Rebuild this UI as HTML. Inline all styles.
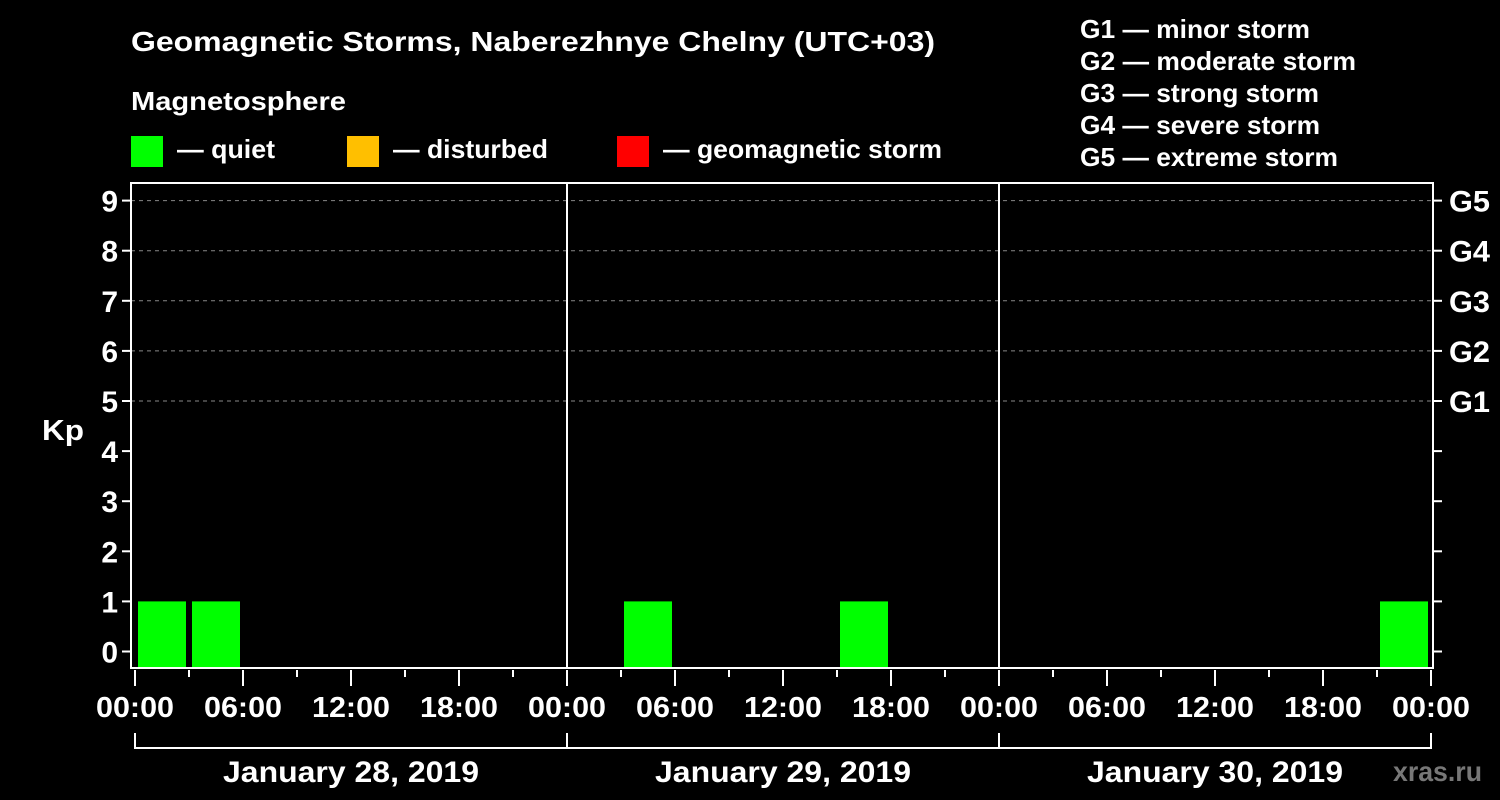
<!DOCTYPE html>
<html><head><meta charset="utf-8">
<style>
html,body{margin:0;padding:0;background:#000;}
svg{display:block;font-family:"Liberation Sans",Arial,sans-serif;font-weight:bold;}
</style></head>
<body>
<svg id="chart" width="1500" height="800" viewBox="0 0 1500 800" xmlns="http://www.w3.org/2000/svg">
<rect width="1500" height="800" fill="#000"/>
<text x="131" y="51" fill="#fff" font-size="28" textLength="804" lengthAdjust="spacingAndGlyphs">Geomagnetic Storms, Naberezhnye Chelny (UTC+03)</text>
<text x="131" y="110" fill="#fff" font-size="26" textLength="215" lengthAdjust="spacingAndGlyphs">Magnetosphere</text>
<g><rect x="131" y="136" width="32" height="31" fill="#00ff00"/><text x="177" y="158" fill="#fff" font-size="26" textLength="98" lengthAdjust="spacingAndGlyphs">— quiet</text></g>
<g><rect x="347" y="136" width="32" height="31" fill="#ffbf00"/><text x="393" y="158" fill="#fff" font-size="26" textLength="155" lengthAdjust="spacingAndGlyphs">— disturbed</text></g>
<g><rect x="617" y="136" width="32" height="31" fill="#ff0000"/><text x="663" y="158" fill="#fff" font-size="26" textLength="279" lengthAdjust="spacingAndGlyphs">— geomagnetic storm</text></g>
<g fill="#fff" font-size="26" lengthAdjust="spacingAndGlyphs">
<text x="1080" y="38" textLength="230" lengthAdjust="spacingAndGlyphs">G1 — minor storm</text>
<text x="1080" y="70" textLength="276" lengthAdjust="spacingAndGlyphs">G2 — moderate storm</text>
<text x="1080" y="102" textLength="239" lengthAdjust="spacingAndGlyphs">G3 — strong storm</text>
<text x="1080" y="134" textLength="240" lengthAdjust="spacingAndGlyphs">G4 — severe storm</text>
<text x="1080" y="166" textLength="258" lengthAdjust="spacingAndGlyphs">G5 — extreme storm</text>
</g>
<text x="42" y="440" fill="#fff" font-size="29" textLength="42" lengthAdjust="spacingAndGlyphs">Kp</text>
<text x="1393" y="781" fill="#777" font-size="28" textLength="89" lengthAdjust="spacingAndGlyphs">xras.ru</text>
<g id="grid"></g><g id="bars"></g><g id="axes"></g>
</svg>
<script>
const kpValues = [1,1,0,0,0,0,0,0, 0,1,0,0,0,1,0,0, 0,0,0,0,0,0,0,1];
const dayLabels = ["January 28, 2019","January 29, 2019","January 30, 2019"];
const hourLabels = ["00:00","06:00","12:00","18:00"];
const gLabels = ["G1","G2","G3","G4","G5"];
const kpTicks = [0,1,2,3,4,5,6,7,8,9];

const NS="http://www.w3.org/2000/svg";
const x0=135, hourW=18, fL=131, fR=1433, fT=183, fB=668;
const xs=h=>x0+h*hourW;
const ys=v=>651.5-v*50.1;
function mk(tag,attrs,parent,txt){const e=document.createElementNS(NS,tag);for(const k in attrs)e.setAttribute(k,attrs[k]);if(txt!==undefined)e.textContent=txt;document.getElementById(parent).appendChild(e);return e;}

kpTicks.forEach(v=>{
  if(v>=5){const g=mk('line',{x1:fL,x2:fR,y1:ys(v),y2:ys(v),stroke:'#888','stroke-dasharray':'4,4','stroke-width':1},'grid');
  
  }
  const t=mk('line',{x1:122,x2:fL,y1:ys(v),y2:ys(v),stroke:'#fff','stroke-width':2},'axes');
  
  
  const l=mk('text',{x:118,y:ys(v)+11,fill:'#fff','font-size':30,'text-anchor':'end'},'axes',String(v));
  
  
  const r=mk('line',{x1:fR,x2:1442,y1:ys(v),y2:ys(v),stroke:'#fff','stroke-width':2},'axes');
  
  
});
gLabels.forEach((g,i)=>{
  const t=mk('text',{x:1449,y:ys(5+i)+11,fill:'#fff','font-size':30,textLength:41,lengthAdjust:'spacingAndGlyphs'},'axes',g);
  
  
});
kpValues.forEach((v,i)=>{
  if(v<=0)return;
  const c=v>=5?'#ff0000':(v>=4?'#ffbf00':'#00ff00');
  const b=mk('rect',{x:xs(i*3)+3,y:ys(v),width:48,height:fB-ys(v),fill:c},'bars');
  
  
});
const f=mk('rect',{x:fL,y:fT,width:fR-fL,height:fB-fT,fill:'none',stroke:'#fff','stroke-width':2},'axes');


for(let d=1;d<dayLabels.length;d++){
  const s=mk('line',{x1:xs(d*24),x2:xs(d*24),y1:fT,y2:fB,stroke:'#fff','stroke-width':2},'axes');
  
  
}
for(let h=0;h<=72;h+=3){
  const major=h%6===0;
  const t=mk('line',{x1:xs(h),x2:xs(h),y1:fB+2,y2:major?686:677,stroke:'#fff','stroke-width':2},'axes');
  
  
  if(major){
    const l=mk('text',{x:xs(h),y:717,fill:'#fff','font-size':29,'text-anchor':'middle',textLength:78,lengthAdjust:'spacingAndGlyphs'},'axes',hourLabels[(h/6)%4]);
    
    
  }
}
const br=mk('line',{x1:xs(0),x2:xs(72),y1:748,y2:748,stroke:'#fff','stroke-width':2},'axes');


for(let d=0;d<=dayLabels.length;d++){
  const t=mk('line',{x1:xs(d*24),x2:xs(d*24),y1:733,y2:749,stroke:'#fff','stroke-width':2},'axes');
  
  
}
dayLabels.forEach((d,i)=>{
  const t=mk('text',{x:xs(i*24+12),y:782,fill:'#fff','font-size':30,'text-anchor':'middle',textLength:256,lengthAdjust:'spacingAndGlyphs'},'axes',d);
  
  
});
</script>
</body></html>
